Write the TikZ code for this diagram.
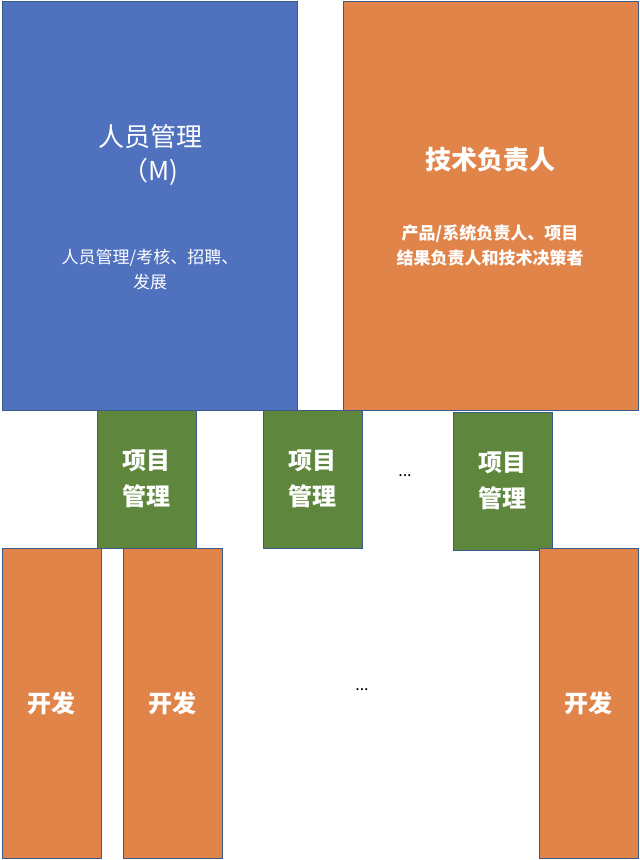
\documentclass[tikz,border=0pt]{standalone}
\usepackage{fontspec}
\setmainfont{Noto Sans CJK SC}
\definecolor{bluefill}{HTML}{4F71BE}
\definecolor{orangefill}{HTML}{E0844A}
\definecolor{greenfill}{HTML}{5E873D}
\definecolor{edgecolor}{HTML}{3A5A8C}
\tikzset{
  box/.style={draw=edgecolor,line width=1pt,text=white,align=center},
  mgr/.style={box,fill=bluefill},
  lead/.style={box,fill=orangefill},
  pm/.style={box,fill=greenfill,font=\bfseries\fontsize{24}{36}\selectfont},
  dev/.style={box,fill=orangefill,font=\bfseries\fontsize{24}{30}\selectfont},
}
\begin{document}
\begin{tikzpicture}[x=1pt,y=-1pt]
\useasboundingbox (0,0) rectangle (640,860);
% top row
\draw[mgr] (2,1) rectangle (297,410);
\draw[lead] (343,1) rectangle (638,410);
\node[text=white,align=center,font=\fontsize{26}{34}\selectfont] (mgrtitle) at (150,155) {人员管理\\（M)};
\node[text=white,align=center,font=\fontsize{17}{25}\selectfont] (mgrtext) at (150,270) {人员管理/考核、招聘、\\发展};
\node[text=white,font=\bfseries\fontsize{26}{34}\selectfont] (leadtitle) at (490,160) {技术负责人};
\node[text=white,align=center,font=\bfseries\fontsize{17}{25}\selectfont] (leadtext) at (490,245) {产品/系统负责人、项目\\结果负责人和技术决策者};
% project managers
\draw[pm] (97,410) rectangle (196,548) node[midway] (pm1) {项目\\管理};
\draw[pm] (263,410) rectangle (362,548) node[midway] (pm2) {项目\\管理};
\draw[pm] (453,412) rectangle (552,550) node[midway] (pm3) {项目\\管理};
\node[font=\fontsize{16}{20}\selectfont] (dots1) at (405,476) {...};
% developers
\draw[dev] (2,548) rectangle (101,858) node[midway] (dev1) {开发};
\draw[dev] (123,548) rectangle (222,858) node[midway] (dev2) {开发};
\draw[dev] (539,548) rectangle (638,858) node[midway] (dev3) {开发};
\node[font=\fontsize{16}{20}\selectfont] (dots2) at (362,690) {...};
\end{tikzpicture}
\end{document}
